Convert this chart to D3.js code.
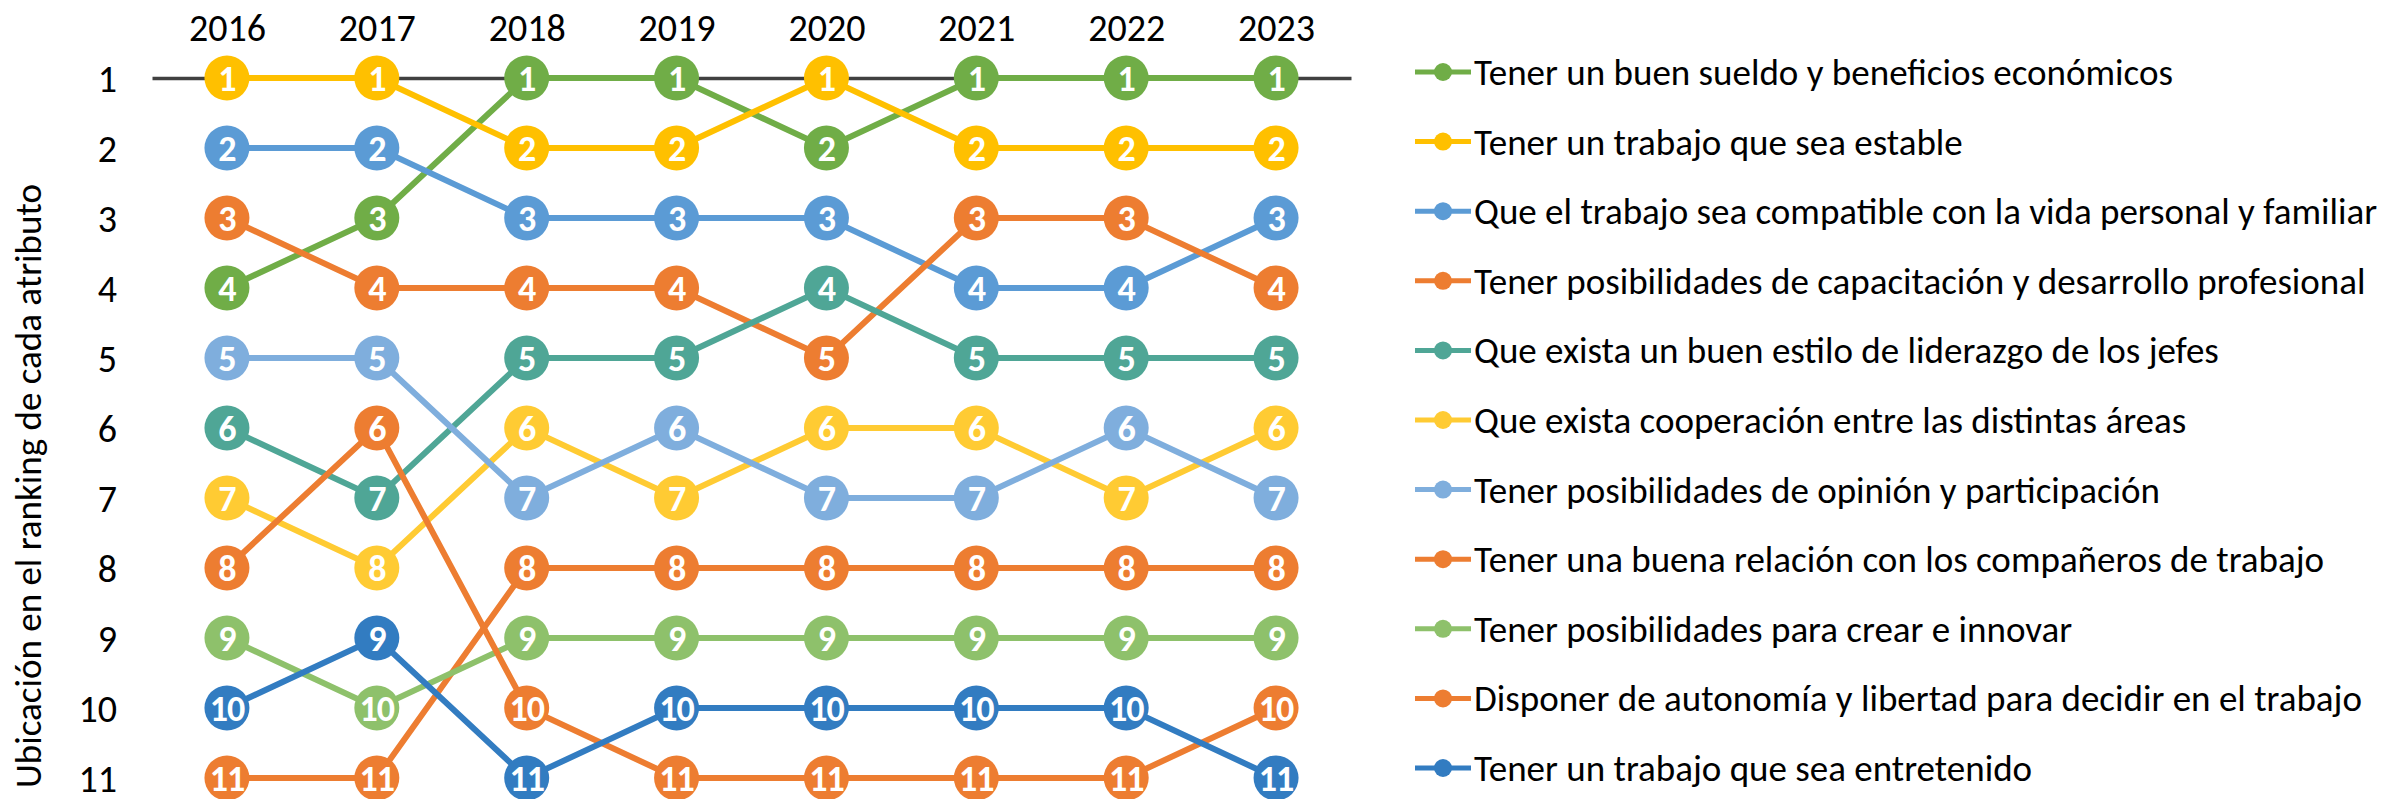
<!DOCTYPE html>
<html>
<head>
<meta charset="utf-8">
<script src="https://cdn.jsdelivr.net/npm/d3@7"></script>
<style>
  body { margin: 0; background: #fff; }
  svg { display: block; }
  text { font-family: Carlito, Calibri, Lato, "Open Sans", sans-serif; }
</style>
</head>
<body>
<div id="chart"></div>
<script>
const years = ['2016', '2017', '2018', '2019', '2020', '2021', '2022', '2023'];
const rankTicks = [1, 2, 3, 4, 5, 6, 7, 8, 9, 10, 11];

const seriesNames = [
  'Tener un buen sueldo y beneficios económicos',
  'Tener un trabajo que sea estable',
  'Que el trabajo sea compatible con la vida personal y familiar',
  'Tener posibilidades de capacitación y desarrollo profesional',
  'Que exista un buen estilo de liderazgo de los jefes',
  'Que exista cooperación entre las distintas áreas',
  'Tener posibilidades de opinión y participación',
  'Tener una buena relación con los compañeros de trabajo',
  'Tener posibilidades para crear e innovar',
  'Disponer de autonomía y libertad para decidir en el trabajo',
  'Tener un trabajo que sea entretenido'
];

const sueldo       = [4, 3, 1, 1, 2, 1, 1, 1];
const estable      = [1, 1, 2, 2, 1, 2, 2, 2];
const compatible   = [2, 2, 3, 3, 3, 4, 4, 3];
const capacitacion = [3, 4, 4, 4, 5, 3, 3, 4];
const liderazgo    = [6, 7, 5, 5, 4, 5, 5, 5];
const cooperacion  = [7, 8, 6, 7, 6, 6, 7, 6];
const opinion      = [5, 5, 7, 6, 7, 7, 6, 7];
const relacion     = [11, 11, 8, 8, 8, 8, 8, 8];
const crear        = [9, 10, 9, 9, 9, 9, 9, 9];
const autonomia    = [8, 6, 10, 11, 11, 11, 11, 10];
const entretenido  = [10, 9, 11, 10, 10, 10, 10, 11];

const seriesValues = [sueldo, estable, compatible, capacitacion, liderazgo,
  cooperacion, opinion, relacion, crear, autonomia, entretenido];

const seriesColors = ['#70AD47', '#FFC000', '#5B9BD5', '#ED7D31', '#4FA696',
  '#FFCB33', '#7FAEDD', '#ED7D31', '#8EC16B', '#ED7D31', '#327CC1'];

const width = 2394;
const height = 799;
const axisColor = '#404040';
const textColor = '#000000';
const markerRadius = 22.5;
const lineWidth = 6;

const series = seriesNames.map((name, i) => ({
  name,
  color: seriesColors[i],
  values: seriesValues[i].map((rank, j) => ({year: years[j], rank}))
}));

const svg = d3.select('#chart')
  .append('svg')
  .attr('width', width)
  .attr('height', height);

/*scales*/
const xScale = d3.scalePoint()
  .domain(years)
  .range([152, 1351])
  .padding(0.5);

const yScale = d3.scaleLinear()
  .domain([1, 11])
  .range([78, 778]);

/*x axis sits on rank 1, labels above*/
const xAxisElement = svg.append('g')
  .attr('class', 'x-axis')
  .attr('transform', `translate(0, ${yScale(1)})`)
  .call(d3.axisTop(xScale).tickSize(0).tickSizeOuter(0).tickPadding(37));

xAxisElement.select('.domain')
  .attr('stroke', axisColor)
  .attr('stroke-width', 3.5);
xAxisElement.selectAll('text')
  .attr('fill', textColor)
  .style('font-size', '38px');

/*y axis: only labels*/
const yAxisElement = svg.append('g')
  .attr('class', 'y-axis')
  .attr('transform', 'translate(117, 0)')
  .call(d3.axisLeft(yScale).tickValues(rankTicks).tickSize(0).tickPadding(0).tickFormat(d3.format('d')));

yAxisElement.select('.domain').remove();
yAxisElement.selectAll('text')
  .attr('fill', textColor)
  .attr('dy', '0.36em')
  .style('font-size', '38px');

svg.append('text')
  .attr('transform', 'translate(41, 486) rotate(-90)')
  .attr('text-anchor', 'middle')
  .attr('fill', textColor)
  .style('font-size', '37px')
  .text('Ubicación en el ranking de cada atributo');

/*lines*/
const lineGen = d3.line()
  .x(d => xScale(d.year))
  .y(d => yScale(d.rank));

const seriesGroups = svg.append('g')
  .attr('class', 'series')
  .selectAll('g')
  .data(series)
  .join('g');

seriesGroups.append('path')
  .attr('fill', 'none')
  .attr('stroke', d => d.color)
  .attr('stroke-width', lineWidth)
  .attr('d', d => lineGen(d.values));

const markers = seriesGroups.selectAll('g.marker')
  .data(d => d.values.map(v => ({...v, color: d.color})))
  .join('g')
  .attr('class', 'marker')
  .attr('transform', d => `translate(${xScale(d.year)}, ${yScale(d.rank)})`);

markers.append('circle')
  .attr('r', markerRadius)
  .attr('fill', d => d.color);

markers.append('text')
  .attr('text-anchor', 'middle')
  .attr('dy', '0.36em')
  .attr('fill', 'white')
  .style('font-size', '36px')
  .style('font-weight', 'bold')
  .style('letter-spacing', '-1px')
  .text(d => d.rank);

/*legend*/
const legendY = d3.scalePoint()
  .domain(seriesNames)
  .range([72, 768]);

const legendItems = svg.append('g')
  .attr('class', 'legend')
  .selectAll('g')
  .data(series)
  .join('g')
  .attr('transform', d => `translate(1415, ${legendY(d.name)})`);

legendItems.append('line')
  .attr('x1', 0)
  .attr('x2', 56)
  .attr('stroke', d => d.color)
  .attr('stroke-width', 5);

legendItems.append('circle')
  .attr('cx', 28)
  .attr('r', 9)
  .attr('fill', d => d.color);

legendItems.append('text')
  .attr('x', 59)
  .attr('dy', '0.35em')
  .attr('fill', textColor)
  .style('font-size', '37px')
  .text(d => d.name);
</script>
</body>
</html>
